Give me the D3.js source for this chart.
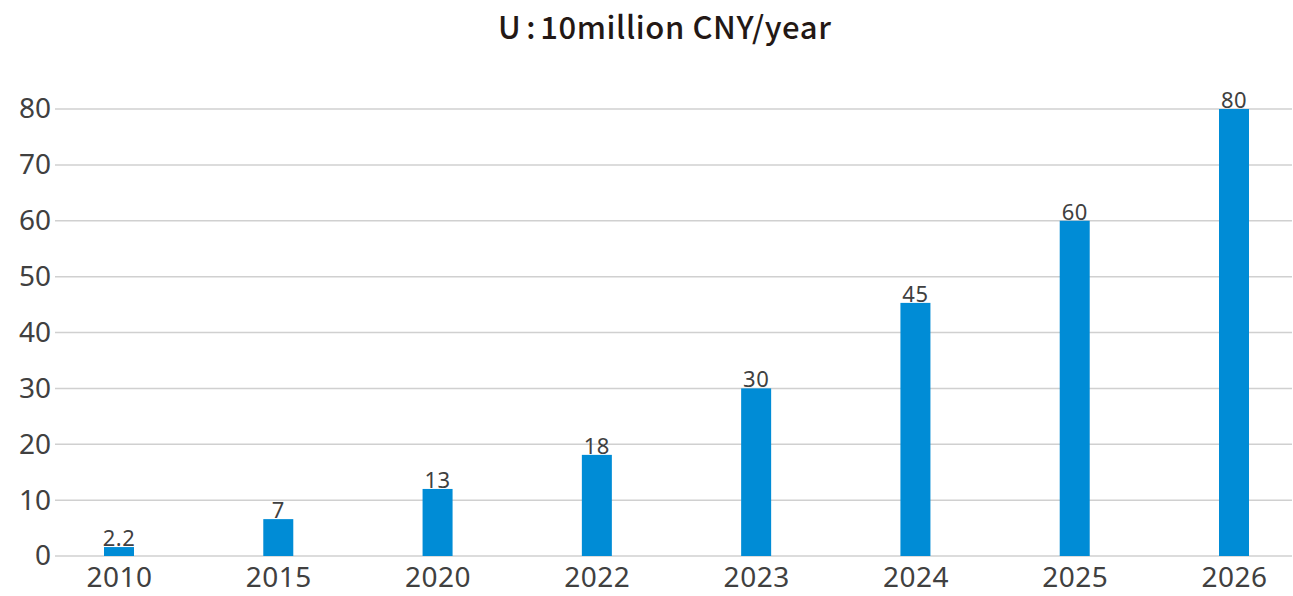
<!DOCTYPE html>
<html><head><meta charset="utf-8">
<script src="https://cdn.jsdelivr.net/npm/d3@7"></script>
<style>
html,body{margin:0;padding:0;background:#fff;}
svg{display:block;font-family:"Noto Sans","Open Sans",sans-serif;}
</style></head><body>
<svg id="chart" width="1293" height="596"></svg>
<script>
const titleParts = ["U", ":", "10million CNY/year"];
const categories = ["2010","2015","2020","2022","2023","2024","2025","2026"];
const barValues = [1.6, 6.6, 12, 18.1, 30, 45.3, 60, 80];
const labelValues = ["2.2","7","13","18","30","45","60","80"];
const yTicks = [0,10,20,30,40,50,60,70,80];

const svg = d3.select("#chart");
const gridLeft = 55, gridRight = 1292;
const x = d3.scalePoint().domain(categories).range([119, 1234]);
const y = d3.scaleLinear().domain([0, 80]).range([556, 109]);
const barW = 30;

const t = svg.append("text").attr("x", 498).attr("y", 39)
  .attr("font-size", 31).attr("font-weight", 500).attr("fill", "#231815")
  .attr("letter-spacing", 0.6)
  .attr("font-family", "'Noto Sans CJK SC','Noto Sans',sans-serif");
t.append("tspan").text(titleParts[0]);
t.append("tspan").attr("dx", 5).text(titleParts[1]);
t.append("tspan").attr("dx", 4).text(titleParts[2]);

// gridlines
svg.append("g").selectAll("line").data(yTicks).join("line")
  .attr("x1", gridLeft).attr("x2", gridRight)
  .attr("y1", d => y(d)).attr("y2", d => y(d))
  .attr("stroke", "#d0d0d0").attr("stroke-width", 1.5);

// y axis labels
const yAxis = d3.axisLeft(y).tickValues(yTicks).tickSize(0).tickPadding(0);
const gy = svg.append("g").attr("transform", `translate(${gridLeft - 4},0)`).call(yAxis);
gy.select(".domain").remove();
gy.selectAll("text").attr("font-size", 28).attr("fill", "#404040")
  .attr("font-family", "'Noto Sans','Open Sans',sans-serif");

// x axis labels
const xAxis = d3.axisBottom(x).tickSize(0).tickPadding(0);
const gx = svg.append("g").attr("transform", `translate(0,${y(0) + 11})`).call(xAxis);
gx.select(".domain").remove();
gx.selectAll("text").attr("font-size", 28).attr("fill", "#404040")
  .attr("letter-spacing", 0.5)
  .attr("font-family", "'Noto Sans','Open Sans',sans-serif");

// bars
svg.append("g").selectAll("rect").data(categories).join("rect")
  .attr("x", d => x(d) - barW / 2).attr("width", barW)
  .attr("y", (d, i) => y(barValues[i]))
  .attr("height", (d, i) => y(0) - y(barValues[i]))
  .attr("fill", "#008cd6");

// value labels
svg.append("g").selectAll("text").data(categories).join("text")
  .attr("x", d => x(d)).attr("y", (d, i) => y(barValues[i]) - 1)
  .attr("text-anchor", "middle").attr("font-size", 22).attr("fill", "#404040")
  .attr("letter-spacing", 0.5)
  .text((d, i) => labelValues[i]);
</script>
</body></html>
